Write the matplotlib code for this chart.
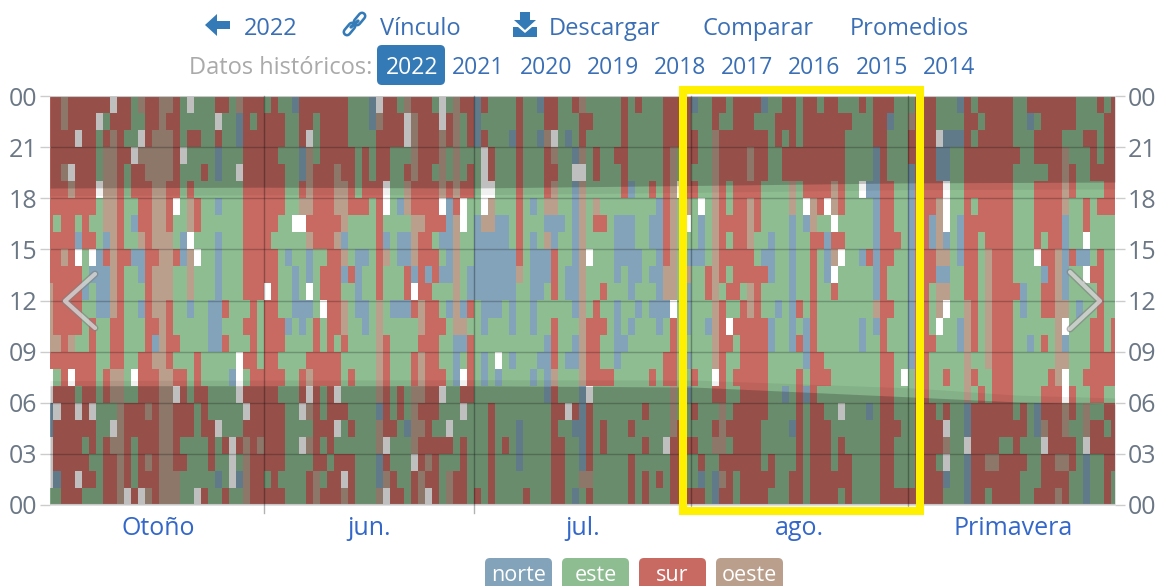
import numpy as np
import matplotlib
matplotlib.use('Agg')
import matplotlib.pyplot as plt
from matplotlib.colors import ListedColormap
from matplotlib.patches import FancyBboxPatch, Polygon, Rectangle

plt.rcParams['font.family'] = ['Open Sans', 'DejaVu Sans']

# wind direction per hour, top row = 23h, run lengths over the days May 1 - Sep 30
# N norte, E este, S sur, O oeste, W no data
rows = [
    "S2 O1 S6 W1 S2 E1 O1 S2 O2 S1 E1 W1 E3 S2 E1 O1 S3 E1 S1 E2 N1 S7 E3 N1 W1 S2 E1 O1 S3 E1 W1 E1 O1 S2 N1 S1 E4 S1 E2 N1 S2 E2 S1 O1 E5 S1 E1 S1 E3 S3 S1 N1 E2 S2 E1 S4 N1 E2 S2 E1 S2 E1 S2 E3 S1 E1 S3 E1 E2 S3 E3 N1 S1 E1 S5 E2 S7 E3 S1 E1 S1",
    "S2 O1 S4 W1 E1 S3 E2 S2 O1 S2 E5 W1 E2 N1 S1 E1 S1 S3 E2 S2 E1 S4 E3 N1 O1 S3 W1 O1 S3 W1 S1 O1 E1 S1 N1 E5 S1 E3 S2 E3 S2 E4 S1 E5 S3 S1 E3 S1 E2 S3 E3 S3 E1 S7 E3 S2 N1 E1 E1 O1 S3 E4 S2 E1 S4 E2 N1 E1 S5 E4 S2",
    "S4 W1 S2 E1 S1 O1 S1 E2 W1 S1 O3 S1 E1 S2 E2 S1 E2 N1 S3 S3 E2 S1 W1 E1 S4 E4 S4 W1 O1 S3 O1 S1 O1 E1 S1 N1 S1 E3 N1 S1 E2 N1 O1 W1 E1 N1 E1 S1 E5 S1 E5 S3 S2 E2 O1 S7 E1 S1 E1 S1 E1 S6 E4 S2 E2 E1 S4 W1 N3 S1 E1 S5 E3 S4 E3 S2 E1 S2",
    "S7 E1 O2 S2 W1 O5 S1 W1 E4 N1 E3 S3 S2 E3 N1 O1 E1 S5 E1 S1 E1 S2 E3 O1 S3 O1 E1 O1 E3 W1 S1 E3 S1 E3 S1 O1 E2 N1 O1 E1 S1 E2 S2 E5 S1 O1 E1 S2 E2 O1 S4 O1 S2 E2 S9 E4 N1 S1 E2 E1 S4 N2 E2 S8 E2 S4 O1 E3 S1 E1 S2",
    "S2 O1 W1 S3 E1 O2 S1 E1 S2 O4 S1 E3 S1 E1 N1 E2 W1 S3 S3 E2 N1 O1 S3 O1 S2 E1 S1 E1 S2 E2 S1 O1 S2 E1 O1 E1 O1 E1 S1 E1 W1 S1 E3 S1 E3 S2 E2 W2 E1 S1 E3 S1 E5 S1 O1 E1 S1 E3 O1 S4 O1 S2 E2 S9 E4 N1 S1 E2 E1 N1 S3 N2 E2 S7 E5 S2 O1 S1 E2 S4",
    "S3 O1 S3 W1 O2 S1 E1 S3 O2 S2 E1 S1 E7 S3 S3 E2 S1 O1 S3 O2 S1 E1 S3 W1 E2 O1 S4 O1 S1 O1 S2 E1 W2 E3 S1 E3 S1 O1 E2 N1 O1 E5 S1 N1 E2 S1 E1 S1 O1 W1 S2 E2 O1 S1 E1 S4 E4 O1 E1 S4 O1 S1 E2 W1 N2 S2 E1 E1 N1 S4 W1 E2 S7 E3 S4 O1 S1 E4 S2",
    "S7 E1 O2 S1 E2 S2 O2 S1 W1 E1 O1 S1 E2 N1 E3 S3 S3 E2 O2 S3 O2 S3 E1 S1 W1 E1 N1 O1 S4 W1 N1 S1 W1 E2 W1 O1 E3 S1 E1 N1 E1 O2 E2 N1 O1 E1 O1 E8 N1 S1 O1 E1 O1 E1 W1 E1 O1 S1 E1 S2 O1 S1 E4 O1 E1 W1 O1 S1 W1 O1 S1 E4 N1 S2 E1 E1 N1 S3 O1 W1 E2 S1 E1 S5 E3 S4 O1 E2 S1 E1 S3",
    "S1 E1 S2 E1 S1 E2 O2 S1 E1 N1 S2 O2 S1 E2 O1 S1 E6 S3 S2 E2 W2 S5 O1 E4 S1 E4 O2 S3 N1 O1 W1 E1 N1 O2 N2 E1 S1 E3 N3 E1 N1 O1 E1 S2 E1 N3 E2 N2 S1 O1 E1 W1 E1 N1 E1 O1 S4 O1 S1 E4 N1 E1 N1 O1 E2 W1 E5 N1 S2 E1 E1 N1 S2 N1 O1 W1 E1 N1 S7 E3 S4 N1 E2 S1 E4",
    "S4 N1 S2 E1 N1 O1 S1 E2 O1 S1 O3 E1 N1 W1 E3 N1 E3 S3 S1 E5 O1 S3 O1 N1 E4 S1 N1 E1 N2 O1 S2 E1 N2 O1 E2 N1 N4 E1 S1 E1 N1 E1 O1 N1 E2 N1 O1 E4 N3 E2 N2 S1 O1 E1 E2 N1 E1 O1 S1 E1 S2 O1 E2 N1 E2 N1 E2 S2 N1 S2 E4 N1 S3 E1 N1 S2 N1 O1 N1 E1 N1 S2 E1 S4 E3 S1 E1 S2 N1 E2 W1 E4",
    "S2 O1 S1 W1 E1 W1 N1 S1 O1 S2 N2 S2 O2 S1 N1 O1 W1 E2 N1 E3 S3 S2 E1 N1 E2 N1 E2 S2 O1 E1 N2 E1 S1 O1 E1 N2 O1 S3 E1 N1 O1 E2 N1 N5 S1 E1 N3 S1 E2 N1 O1 W1 E3 N4 E2 N1 S1 O1 E1 N3 E1 O1 S5 E1 N2 E2 N1 E2 S1 E1 N1 O1 W1 E2 N1 S1 N1 S2 E1 E1 N1 S3 O2 E1 N1 S2 E1 O1 S3 E3 W1 S2 O1 N1 S1 N2 E1 S1 E2",
    "S5 E1 N3 O1 S1 E2 N1 S1 O3 E2 O1 E3 N1 E3 S3 S2 E2 N1 E1 N1 E1 S3 N1 S1 N1 E2 S1 E3 S1 N1 S1 N1 S1 N2 O1 E1 N2 N5 O1 E1 N3 S1 E1 N2 O1 E4 N1 E1 N2 E1 N2 O2 E1 O1 E2 S1 O1 S1 E1 S5 N1 E2 N1 E2 S1 E1 N1 W1 E5 N1 S1 E2 E1 N1 S3 N2 E2 S2 E1 O1 S3 E4 N1 S1 O1 N1 E2 W1 S2 E2",
    "O1 S4 N1 E1 N2 O1 S1 E3 S1 O3 E2 O1 E3 N1 E3 S3 W1 S1 E2 N1 E1 W1 E1 S3 E2 N1 E2 S1 E3 S1 W1 S2 E3 O1 E1 N2 N5 E2 N2 E1 S1 E1 N2 O1 E2 S1 E3 N1 E3 N1 O2 E1 N1 E2 S1 O1 E1 S2 E1 O1 S1 E4 N1 E2 S1 E2 S1 E5 N1 S1 E2 E1 N1 S2 E1 O2 E2 S2 E1 O1 S4 N1 E2 S2 O1 N1 E4 S1 E2",
    "O1 S4 E2 N2 O1 S1 E2 N1 S1 O2 S1 E2 N1 E2 N2 S1 E3 S1 E1 S2 E2 N3 E1 W1 S2 O1 E1 N2 E1 O1 E1 N3 S1 O1 S2 E1 N1 O1 N1 S1 E1 N3 E1 N1 E2 N1 E5 N1 O1 E1 S1 E2 N1 E2 N1 E1 N3 W1 E1 N1 E3 O1 S1 E2 S1 O1 S1 E2 N1 E1 N1 S1 E1 S1 E8 O1 S2 E1 E1 N1 S2 E1 O1 W1 E2 O1 S1 E1 O1 S3 E1 N1 E2 S2 O2 E1 N1 E2 S1 E2",
    "O1 S4 E1 S1 E2 S2 E3 S2 O1 S1 E5 N2 E3 S2 E1 S3 N1 E1 N1 E1 S1 E1 S2 O1 E2 N1 E1 O1 E5 O1 S3 E1 O2 E2 N1 E3 N1 E2 N1 E2 S1 E3 O1 S3 E1 N1 E1 N1 E3 N1 E1 S1 E1 N1 E2 N1 O1 S1 W1 S5 N1 E2 N1 E1 N1 S1 E6 N1 E1 N1 S1 E2 E1 N1 S2 E1 W1 E2 N1 O1 S1 E1 O1 S3 E6 O1 W1 E3 S2 E1 S1",
    "O2 S1 O1 E2 S1 E2 S2 E3 S1 N1 O1 S2 E4 N2 S1 E3 S1 E1 S3 E4 S1 E1 S1 E1 S1 E4 O1 S1 E4 S3 E2 N2 S1 E1 E9 N1 S1 E2 N1 O1 S2 E2 N2 E6 S1 E1 E4 O1 S2 E1 S4 N1 E2 N1 S1 N1 S1 E6 N1 E2 S1 E2 E1 N1 S3 E3 N1 O1 S1 E1 O1 S3 E2 N1 E1 S1 E1 O1 N1 E3 S2 E1 S1",
    "S7 E2 S2 E2 S2 O2 S1 E3 S1 E5 W1 S2 E1 S2 E4 S5 E5 O1 S1 E3 S1 O1 S2 E2 N1 E1 S1 E1 N1 E1 W1 E1 N1 E3 N2 S1 E1 N2 O1 S2 E2 N1 E6 S2 E1 N1 E3 O1 S1 E2 S4 E5 N1 S2 E8 S2 E1 E1 N1 S2 E5 O1 E2 O1 S3 E6 O2 E3 S4",
    "W1 E1 S1 W1 S3 E1 S1 O2 E1 W1 S3 O2 S2 E1 S1 E4 N1 W1 E1 S2 S3 E2 S1 O1 S4 E1 S1 E3 O1 S1 E3 S1 O1 S3 E1 N1 W1 S1 E1 N1 E1 N1 E4 N1 E1 N1 O1 E3 O1 S4 E5 S1 E1 S2 E1 E1 S1 E2 W1 S1 E1 S5 E4 S1 E1 S3 E7 S2 E1 W1 E1 S2 E2 S1 E2 O1 S1 E2 S3 E5 S1 O1 W1 E2 S5",
    "W1 S3 E1 S2 E1 S1 O2 E2 S3 O2 W1 S1 E1 S2 E4 W1 S3 S2 E3 S1 W1 S1 E1 S1 W1 E5 O1 S1 E1 S1 E1 O2 S2 W1 E2 S2 E1 E9 N1 S1 E3 N1 W1 E11 O1 E1 N1 E3 S2 E2 S4 E2 N1 E1 S1 N1 S1 E9 S2 E1 E2 S2 E5 O1 E1 S1 E1 S3 E4 S3 W1 S1 E2 S2 E2",
    "N1 W1 S2 W1 S1 W1 E3 O1 S3 O1 S1 O2 S3 E1 S1 E5 W1 S2 S3 E2 W1 O1 S1 E1 S3 E4 N1 S1 E1 S1 E1 O1 S3 E3 W1 E2 E1 S1 E8 S2 W1 S1 N1 S1 E7 S1 E3 O1 E1 E1 S1 E3 O1 E1 S5 E4 S1 E1 S2 E2 W1 E3 N1 E1 S2 E1 E2 S3 E1 S1 E2 N1 S6 E1 S1 E1 N1 S3 O1 S1 E1 O1 E2 S2",
    "N1 S6 E2 W1 O1 S5 O2 S3 E1 S2 W1 E3 S3 S3 E4 S3 W1 E1 S1 E3 O1 S2 E1 N1 O2 S1 E2 W1 E4 E1 S1 E3 N1 E4 S1 E2 N2 S1 E1 S1 E3 S1 E5 O1 S1 E4 S1 O1 S5 E4 N1 S1 E1 S3 E7 S3 E2 S4 W1 E2 N1 S8 E1 N1 O1 S2 O1 E2 O1 S2 E1 S1",
    "W1 S4 E1 S1 E1 S1 O2 S1 E1 S3 O2 S1 E4 S1 E1 S1 W1 S1 O1 S1 O1 S3 E2 W1 O1 S1 E1 S1 E6 O1 W1 E3 O1 S5 E1 S1 E2 E1 S1 E1 S1 E1 N1 E4 S2 E2 N1 S1 E1 S1 E5 S1 E2 W1 S2 S2 E2 O2 E1 S4 E5 S1 E1 S3 E1 S1 E5 S2 E1 E2 S4 O1 E2 W1 S4 E2 S1 E3 W1 S4 E1 W1 S4",
    "W1 S5 E2 S2 O1 S1 E1 S1 O1 S1 O2 S2 E3 S1 E2 W1 E1 O1 S2 S3 E4 S2 E1 S3 E3 N1 S1 E3 W1 S1 O1 S1 E3 S1 E2 E1 S1 E3 N1 E4 S2 E2 N1 S1 E5 S1 E5 S2 E2 S1 E2 S6 E1 S1 E3 S1 E1 S3 E1 S2 E4 S2 E1 E2 S3 E1 W1 E2 N1 S2 O2 S4 E2 S2 O2 S1 E1 N1 E2 S2",
    "W1 N1 S2 W1 S2 E1 S2 O1 S1 E1 S3 O3 E5 N1 E1 W1 N1 O1 S2 E1 S1 E4 S1 O1 E1 S2 W1 S1 E3 N1 O1 S1 E2 S1 O1 S2 E1 O1 S2 E2 E1 S1 E8 S2 E2 O2 E5 S1 E1 S1 E1 S1 E1 S2 E2 N1 E1 N1 O1 S1 E1 S5 E2 S2 E1 S6 E4 S2 E1 E2 S4 N1 E2 N1 S7 E3 S4 E2 N1 E2 S1 E1",
    "E2 S3 E3 S2 O1 W1 S1 W1 O1 S1 O3 E2 W1 S1 E2 S1 E2 O1 S2 S3 E3 S1 O1 S3 O1 S1 E3 O1 W1 S2 E1 S1 O1 W1 S1 E1 O1 S2 E1 S1 E1 S1 E4 S1 E3 S2 E1 N1 E1 S1 E5 S1 E1 S1 E3 S2 S3 E1 N1 S2 E1 S4 E3 S2 E1 S4 E1 S1 E4 S3 S6 E3 N1 S2 E1 S4 E2 S3 O1 S1 E2 N1 E2 S1 E1",
]

dir_codes = ["N", "E", "S", "O", "W"]
dir_colors = ["#82a3b9", "#8dbd91", "#c96a62", "#bb9f8d", "#ffffff"]

legend_labels = ["norte", "este", "sur", "oeste"]
season_labels = ["Otoño", "jun.", "jul.", "ago.", "Primavera"]
season_days = [15.5, 45.5, 76, 107, 137.5]
month_edges = [30.5, 60.5, 91.5, 122.5]
hour_ticks = [0, 3, 6, 9, 12, 15, 18, 21, 24]
hour_labels = ["00", "03", "06", "09", "12", "15", "18", "21", "00"]

sunset_days = [0, 30, 60, 92, 122, 152]
sunset_hours = [18.6, 18.65, 18.6, 18.75, 18.9, 18.95]
dusk_hours = [18.15, 18.2, 18.2, 18.35, 18.5, 18.55]
sunrise_days = [0, 60, 92, 123, 138, 152]
sunrise_hours = [7.0, 7.0, 6.92, 6.34, 6.05, 5.93]
dawn_hours = [7.3, 7.35, 7.33, 6.87, 6.45, 6.28]

years = ["2021", "2020", "2019", "2018", "2017", "2016", "2015", "2014"]


def decode(row):
    out = []
    for tok in row.split():
        out += [dir_codes.index(tok[0])] * int(tok[1:])
    return out


grid = np.array([decode(r) for r in rows])

W, H = 1167, 586
fig = plt.figure(figsize=(W / 100, H / 100), dpi=100)
ax = fig.add_axes([50 / W, 1 - 505 / H, 1065 / W, 409 / H])
ax.imshow(grid, cmap=ListedColormap(dir_colors), vmin=-0.5, vmax=4.5, aspect='auto',
          interpolation='nearest', extent=(-0.5, grid.shape[1] - 0.5, 0, 24), origin='upper')
ax.set_xlim(0, 152)
ax.set_ylim(0, 24)

# night shading
ax.fill_between(sunset_days, sunset_hours, 24, color='black', alpha=0.25, lw=0)
ax.fill_between(sunset_days, dusk_hours, sunset_hours, color='black', alpha=0.06, lw=0)
ax.fill_between(sunrise_days, 0, sunrise_hours, color='black', alpha=0.25, lw=0)
ax.fill_between(sunrise_days, sunrise_hours, dawn_hours, color='black', alpha=0.06, lw=0)

for h in hour_ticks[1:-1]:
    ax.axhline(h, color='black', alpha=0.22, lw=1)
ax.axhline(24, color='#c8c8c8', lw=1.5)
ax.axhline(0, color='#c8c8c8', lw=1.5)
for m in month_edges:
    ax.plot([m, m], [-0.45, 24], color='black', alpha=0.3, lw=1, clip_on=False)

for s in ax.spines.values():
    s.set_visible(False)
ax.set_xticks([])
ax.set_yticks(hour_ticks)
ax.set_yticklabels(hour_labels, fontsize=18, color='#6b7785')
ax.tick_params(axis='y', length=7, width=1, color='#cccccc', pad=2, right=True, labelright=True)

# page furniture, in pixels
pg = fig.add_axes([0, 0, 1, 1], facecolor='none')
pg.set_xlim(0, W)
pg.set_ylim(H, 0)
pg.axis('off')

blue = '#337ab7'
link = '#3a6fb5'
for lab, x in [("2022", 270.5), ("Vínculo", 420.5), ("Descargar", 605), ("Comparar", 758.5), ("Promedios", 909.5)]:
    pg.text(x, 35, lab, color=link, fontsize=17, ha='center', va='baseline')
pg.text(281, 74, "Datos históricos:", color='#aaaaaa', fontsize=17, ha='center', va='baseline')
pg.add_patch(FancyBboxPatch((380, 48), 62, 34, boxstyle='round,pad=3,rounding_size=5', fc=blue, ec='none'))
pg.text(412, 74, "2022", color='white', fontsize=16.5, ha='center', va='baseline')
for i, y in enumerate(years):
    pg.text(478.5 + i * 67.2, 74, y, color=link, fontsize=16.5, ha='center', va='baseline')

# arrow, link and download icons
pg.add_patch(Polygon([(205, 25), (217, 14), (217, 21), (230, 21), (230, 29), (217, 29), (217, 36)], fc=blue, ec='none'))
for a, b in ([(347, 32), (352, 26)], [(357, 22), (362, 16)]):
    pg.plot([a[0], b[0]], [a[1], b[1]], color=blue, lw=6.5, solid_capstyle='round')
    pg.plot([a[0], b[0]], [a[1], b[1]], color='white', lw=2.8, solid_capstyle='round')
pg.plot([351, 358], [27, 21], color=blue, lw=2.4, solid_capstyle='round')
pg.add_patch(Polygon([(520, 12), (530, 12), (530, 20), (536, 20), (525, 30), (514, 20), (520, 20)], fc=blue, ec='none'))
pg.add_patch(Polygon([(513, 27), (518, 27), (525, 33), (532, 27), (537, 27), (537, 37), (513, 37)], fc=blue, ec='none'))

# season labels come from the day scale of the chart
for lab, d in zip(season_labels, season_days):
    px = 50 + d * 1065 / 152
    pg.text(px, 535, lab, color='#3367c9', fontsize=18, ha='center', va='baseline')

# highlighted summer box
pg.add_patch(Rectangle((682.5, 90), 237.5, 420.5, fc='none', ec='#fff000', lw=5.8, joinstyle='miter'))

# carousel arrows
for pts in ([(95, 274), (65, 301), (95, 328)], [(1070, 272), (1100, 301), (1070, 329)]):
    xs, ys = zip(*pts)
    pg.plot(xs, ys, color='#808080', alpha=0.6, lw=5, solid_capstyle='round')
    pg.plot(xs, ys, color='#e4e4e4', alpha=0.7, lw=3, solid_capstyle='round')

# legend pills
for lab, col, x0 in zip(legend_labels, dir_colors, [485, 562, 639, 716]):
    pg.add_patch(FancyBboxPatch((x0 + 4, 562), 59, 30, boxstyle='round,pad=4,rounding_size=5', fc=col, ec='none'))
    pg.text(x0 + 33.5, 581, lab, color='white', fontsize=15.5, ha='center', va='baseline')

fig.savefig('out.png', dpi=100)
